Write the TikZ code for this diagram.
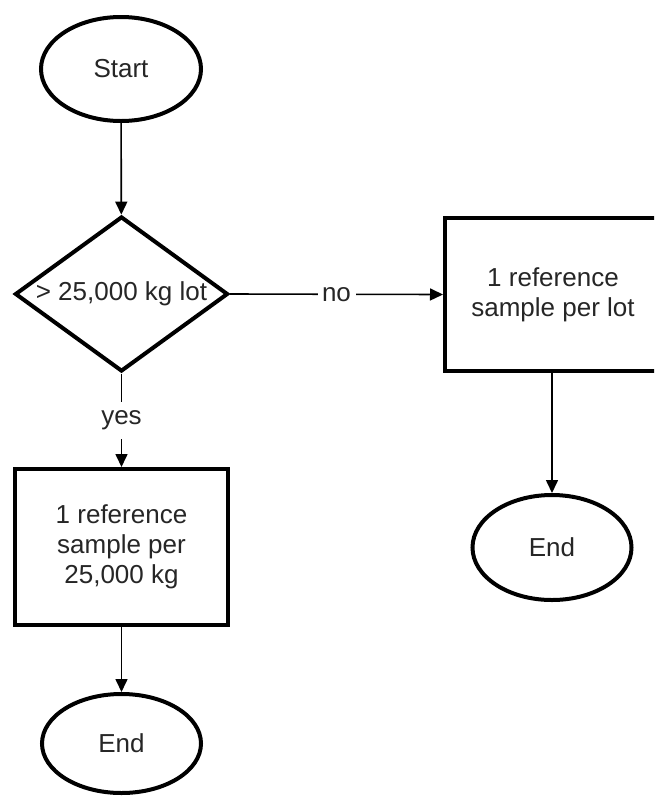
\documentclass[tikz,border=0pt]{standalone}
\usepackage{fontspec}
\setmainfont{Liberation Sans}
\usetikzlibrary{shapes.geometric,arrows.meta}
\begin{document}
\begin{tikzpicture}[x=1pt,y=-1pt,
  every node/.style={font=\fontsize{26}{30}\selectfont, align=center, text=black!85},
  shapebox/.style={draw, line width=4pt, inner sep=0pt, fill=white},
  term/.style={shapebox, ellipse},
  decide/.style={shapebox, diamond},
  proc/.style={shapebox, rectangle},
  conn/.style={line width=1.6pt, -{Triangle[length=13pt,width=12pt]}},
  lbl/.style={fill=white, inner sep=0pt}]
\clip (0,0) rectangle (654,796);
\fill[white] (0,0) rectangle (654,796);
\node[term, minimum width=160pt, minimum height=104pt] (start) at (121,69) {Start};
\node[decide, minimum width=213pt, minimum height=155pt, label={center:> 25,000 kg lot}] (dec) at (121.5,294) {};
\node[proc, minimum width=216pt, minimum height=153pt] (boxR) at (553,294.5) {1 reference\\sample per lot};
\node[proc, minimum width=213pt, minimum height=156pt] (boxL) at (121.5,547) {1 reference\\sample per\\25,000 kg};
\node[term, minimum width=159pt, minimum height=105pt] (endR) at (552,547.5) {End};
\node[term, minimum width=159pt, minimum height=99pt] (endL) at (121.5,743.5) {End};
\draw[conn] (start) -- (dec);
\draw[conn] (dec.east) -- node[lbl, minimum width=38pt] {no} (boxR.west);
\draw[conn] (dec.south) -- node[lbl, minimum height=37pt] {yes} (boxL.north);
\draw[conn] (boxR.south -| endR.north) -- (endR.north);
\draw[conn] (boxL) -- (endL);
\end{tikzpicture}
\end{document}
